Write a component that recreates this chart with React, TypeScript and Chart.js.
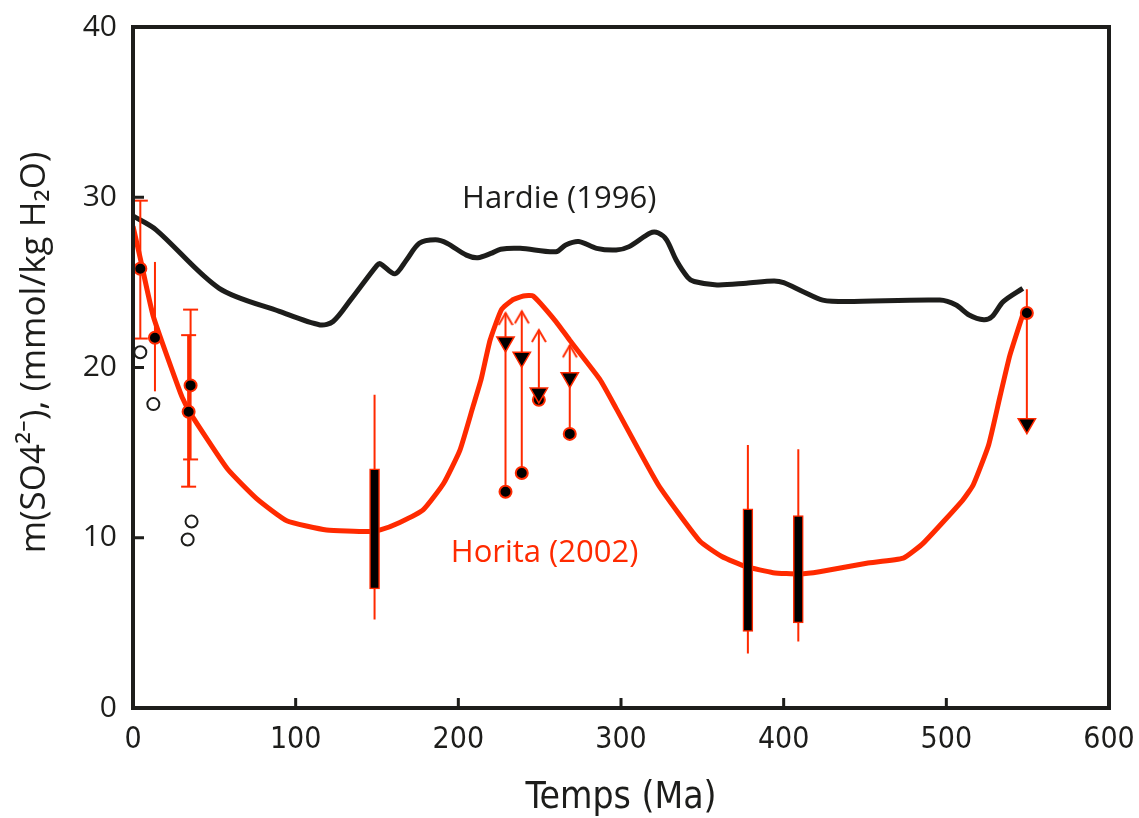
import React, { useEffect, useRef } from "react";
import { Chart, registerables } from "chart.js";

Chart.register(...registerables);

const FONT = "'Open Sans', 'Noto Sans', sans-serif";
const NARROW = "'Liberation Sans Narrow', 'DejaVu Sans Condensed', 'Open Sans', sans-serif";
const RED = "#ff2a00";
const INK = "#1d1d1b";

// axis ticks
const xTicks = [0, 100, 200, 300, 400, 500, 600];
const yTicks = [0, 10, 20, 30, 40];
const yTitle = "m(SO4²⁻), (mmol/kg H₂O)";
const xTitle = "Temps (Ma)";

// Hardie (1996) curve
const hardieTime = [0, 14, 53, 90, 115, 123, 134, 150, 152, 161, 168, 176, 186, 193, 205, 212, 220, 226, 238, 260, 266, 274, 285, 297, 305, 318, 323, 328, 334, 341, 345, 359, 377, 394, 400, 412, 424, 439, 496, 506, 514, 523, 528, 535, 547];
const hardieSO4 = [28.9, 28.1, 24.65, 23.3, 22.5, 22.7, 24.0, 26.0, 26.1, 25.5, 26.3, 27.3, 27.5, 27.3, 26.6, 26.45, 26.7, 26.95, 27.0, 26.8, 27.2, 27.4, 27.0, 26.9, 27.1, 27.9, 27.9, 27.5, 26.3, 25.3, 25.05, 24.85, 24.95, 25.08, 24.98, 24.45, 23.96, 23.87, 23.96, 23.67, 23.08, 22.8, 22.98, 23.87, 24.65];

// Horita (2002) curve
const horitaTime = [0, 4.5, 12.5, 30, 35, 58, 76, 94.5, 119, 144, 152, 164, 178.5, 191, 201, 209, 214, 219.5, 226.5, 233, 240, 246, 260, 268.5, 287, 297, 323, 348.5, 362, 377, 393.5, 410, 422, 451, 473.5, 486, 510, 516.5, 526, 533, 539, 547];
const horitaSO4 = [28.3, 26.4, 23.0, 18.3, 17.35, 14.05, 12.3, 11.0, 10.46, 10.36, 10.46, 10.9, 11.65, 13.2, 15.15, 17.7, 19.3, 21.6, 23.4, 23.95, 24.2, 24.2, 22.7, 21.6, 19.3, 17.6, 13.1, 9.8, 8.9, 8.3, 7.95, 7.87, 8.0, 8.5, 8.8, 9.7, 12.2, 13.1, 15.45, 18.3, 20.7, 23.1];

// error bars with caps
const capBarTime = [4.5, 35.4, 34.2];
const capBarLow = [21.7, 14.6, 13.0];
const capBarHigh = [29.8, 23.4, 21.9];

// error bar without caps
const plainBarTime = [13.5];
const plainBarLow = [18.6];
const plainBarHigh = [26.2];

// range boxes with whiskers
const rangeTime = [148.5, 378, 409];
const rangeLow = [7.0, 4.5, 5.0];
const rangeHigh = [14.05, 11.7, 11.3];
const rangeMin = [5.2, 3.2, 3.9];
const rangeMax = [18.4, 15.45, 15.2];

// filled dots
const dotTime = [4.5, 13.5, 35.4, 34.2, 229, 239, 249.5, 268.5, 549.5];
const dotSO4 = [25.8, 21.75, 18.95, 17.4, 12.7, 13.8, 18.1, 16.1, 23.2];

// down triangles
const triTime = [229, 239, 249.5, 268.5, 549.5];
const triSO4 = [21.5, 20.6, 18.5, 19.4, 16.7];

// vertical arrow lines
const arrowTime = [229, 239, 249.5, 268.5, 549.5];
const arrowLow = [12.7, 13.8, 18.1, 16.1, 16.7];
const arrowHigh = [23.2, 23.3, 22.2, 21.3, 24.6];

// upward arrow heads
const upHeadTime = [229, 239, 249.5, 268.5];
const upHeadSO4 = [23.2, 23.3, 22.2, 21.3];

// open circles
const openTime = [4.5, 12.5, 36, 33.6];
const openSO4 = [20.9, 17.85, 10.95, 9.9];

// curve labels
const labelText = ["Hardie (1996)", "Horita (2002)"];
const labelTime = [262, 253];
const labelSO4 = [29.9, 9.1];

const pts = (xs: number[], ys: number[]) => xs.map((x, i) => ({ x, y: ys[i] }));
const segs = (xs: number[], lo: number[], hi: number[]) => {
  const out: any[] = [];
  xs.forEach((x, i) => {
    out.push({ x, y: lo[i] }, { x, y: hi[i] }, { x, y: null });
  });
  return out;
};

function makeChevron() {
  const c = document.createElement("canvas");
  c.width = 16;
  c.height = 28;
  const g = c.getContext("2d")!;
  g.strokeStyle = RED;
  g.lineWidth = 2;
  g.lineJoin = "miter";
  g.beginPath();
  g.moveTo(1, 26);
  g.lineTo(8, 14);
  g.lineTo(15, 26);
  g.stroke();
  return c;
}

const framePlugin = {
  id: "frame",
  afterDatasetsDraw(chart: any) {
    const { ctx, chartArea, scales } = chart;
    const { left, top, right, bottom } = chartArea;
    const x = scales.x;
    const y = scales.y;
    ctx.save();
    ctx.strokeStyle = INK;
    ctx.lineWidth = 4;
    ctx.strokeRect(left, top, right - left, bottom - top);
    ctx.lineWidth = 3;
    ctx.beginPath();
    yTicks.slice(1, -1).forEach((v) => {
      const py = y.getPixelForValue(v);
      ctx.moveTo(left, py);
      ctx.lineTo(left + 11, py);
    });
    xTicks.slice(1, -1).forEach((v) => {
      const px = x.getPixelForValue(v);
      ctx.moveTo(px, bottom);
      ctx.lineTo(px, bottom - 10);
    });
    ctx.stroke();
    ctx.font = `31px ${FONT}`;
    ctx.textAlign = "center";
    ctx.textBaseline = "middle";
    labelText.forEach((t, i) => {
      ctx.fillStyle = i === 0 ? INK : RED;
      ctx.fillText(t, x.getPixelForValue(labelTime[i]), y.getPixelForValue(labelSO4[i]));
    });
    // y axis title
    ctx.fillStyle = INK;
    ctx.font = `35px ${FONT}`;
    ctx.translate(35, (top + bottom) / 2 - 15);
    ctx.rotate(-Math.PI / 2);
    ctx.fillText(yTitle, 0, 0);
    ctx.restore();
  },
};

export default function App() {
  const ref = useRef<HTMLCanvasElement>(null);
  useEffect(() => {
    document.body.style.margin = "0";
    const chevron = makeChevron();
    const noPts = { pointRadius: 0, pointHoverRadius: 0 };
    const chart = new Chart(ref.current!, {
      type: "line",
      data: {
        datasets: [
          {
            type: "line",
            data: pts(triTime, triSO4),
            showLine: false,
            pointStyle: "triangle",
            pointRotation: 180,
            pointRadius: 10,
            pointBackgroundColor: "#000",
            pointBorderColor: RED,
            pointBorderWidth: 1.5,
            order: 0,
          } as any,
          {
            type: "line",
            data: pts(dotTime, dotSO4),
            showLine: false,
            pointStyle: "circle",
            pointRadius: 6,
            pointBackgroundColor: "#000",
            pointBorderColor: RED,
            pointBorderWidth: 2,
            order: 1,
          },
          {
            type: "line",
            data: pts(openTime, openSO4),
            showLine: false,
            pointStyle: "circle",
            pointRadius: 6,
            pointBackgroundColor: "rgba(255,255,255,0)",
            pointBorderColor: INK,
            pointBorderWidth: 2,
            order: 1,
          },
          {
            type: "line",
            data: [...pts(capBarTime, capBarLow), ...pts(capBarTime, capBarHigh)],
            showLine: false,
            pointStyle: "line",
            pointRadius: 7.5,
            pointBorderColor: RED,
            pointBorderWidth: 2,
            order: 2,
          },
          {
            type: "bar",
            data: rangeTime.map((x, i) => ({ x, y: [rangeLow[i], rangeHigh[i]] })),
            backgroundColor: "#000",
            borderColor: RED,
            borderWidth: 1.5,
            borderSkipped: false,
            barThickness: 10,
            grouped: false,
            order: 3,
          } as any,
          {
            type: "line",
            data: segs(rangeTime, rangeMin, rangeMax),
            borderColor: RED,
            borderWidth: 2,
            ...noPts,
            order: 4,
          },
          {
            type: "line",
            data: segs(capBarTime.slice(0, 2), capBarLow.slice(0, 2), capBarHigh.slice(0, 2)),
            borderColor: RED,
            borderWidth: 2,
            ...noPts,
            order: 4,
          },
          {
            type: "line",
            data: segs(capBarTime.slice(2), capBarLow.slice(2), capBarHigh.slice(2)),
            borderColor: RED,
            borderWidth: 3,
            ...noPts,
            order: 4,
          },
          {
            type: "line",
            data: segs(plainBarTime, plainBarLow, plainBarHigh),
            borderColor: RED,
            borderWidth: 2,
            ...noPts,
            order: 4,
          },
          {
            type: "line",
            data: segs(arrowTime, arrowLow, arrowHigh),
            borderColor: RED,
            borderWidth: 2,
            ...noPts,
            order: 4,
          },
          {
            type: "line",
            data: pts(upHeadTime, upHeadSO4),
            showLine: false,
            pointStyle: chevron,
            pointRadius: 8,
            order: 4,
          } as any,
          {
            type: "line",
            data: pts(horitaTime, horitaSO4),
            borderColor: RED,
            borderWidth: 5,
            tension: 0.15,
            borderJoinStyle: "round",
            ...noPts,
            order: 5,
          },
          {
            type: "line",
            data: pts(hardieTime, hardieSO4),
            borderColor: INK,
            borderWidth: 5,
            tension: 0.3,
            borderJoinStyle: "round",
            ...noPts,
            order: 6,
          },
        ],
      },
      options: {
        animation: false,
        responsive: false,
        events: [],
        layout: { padding: { top: 27, right: 30, left: 0, bottom: 0 } },
        plugins: { legend: { display: false }, tooltip: { enabled: false } },
        scales: {
          x: {
            type: "linear",
            min: 0,
            max: 600,
            offset: false,
            grid: { display: false, drawTicks: false },
            border: { display: false },
            afterBuildTicks: (s: any) => {
              s.ticks = xTicks.map((v) => ({ value: v }));
            },
            ticks: {
              color: INK,
              font: { family: NARROW, size: 30 },
              padding: 14,
              maxRotation: 0,
              autoSkip: false,
            },
            title: {
              display: true,
              text: xTitle,
              color: INK,
              font: { family: NARROW, size: 37 },
              padding: { top: 0, bottom: -3 },
            },
            afterFit: (s: any) => {
              s.height = 110;
              s.paddingLeft = 0;
              s.paddingRight = 0;
            },
          },
          y: {
            type: "linear",
            min: 0,
            max: 40,
            grid: { display: false, drawTicks: false },
            border: { display: false },
            afterBuildTicks: (s: any) => {
              s.ticks = yTicks.map((v) => ({ value: v }));
            },
            ticks: {
              color: INK,
              font: { family: FONT, size: 30 },
              padding: 16,
              autoSkip: false,
            },
            title: { display: false },
            afterFit: (s: any) => {
              s.width = 133;
              s.paddingTop = 0;
              s.paddingBottom = 0;
            },
          },
        },
      } as any,
      plugins: [framePlugin],
    });
    return () => chart.destroy();
  }, []);
  return (
    <div style={{ width: 1139, height: 818 }}>
      <canvas ref={ref} width={1139} height={818} style={{ display: "block" }} />
    </div>
  );
}
